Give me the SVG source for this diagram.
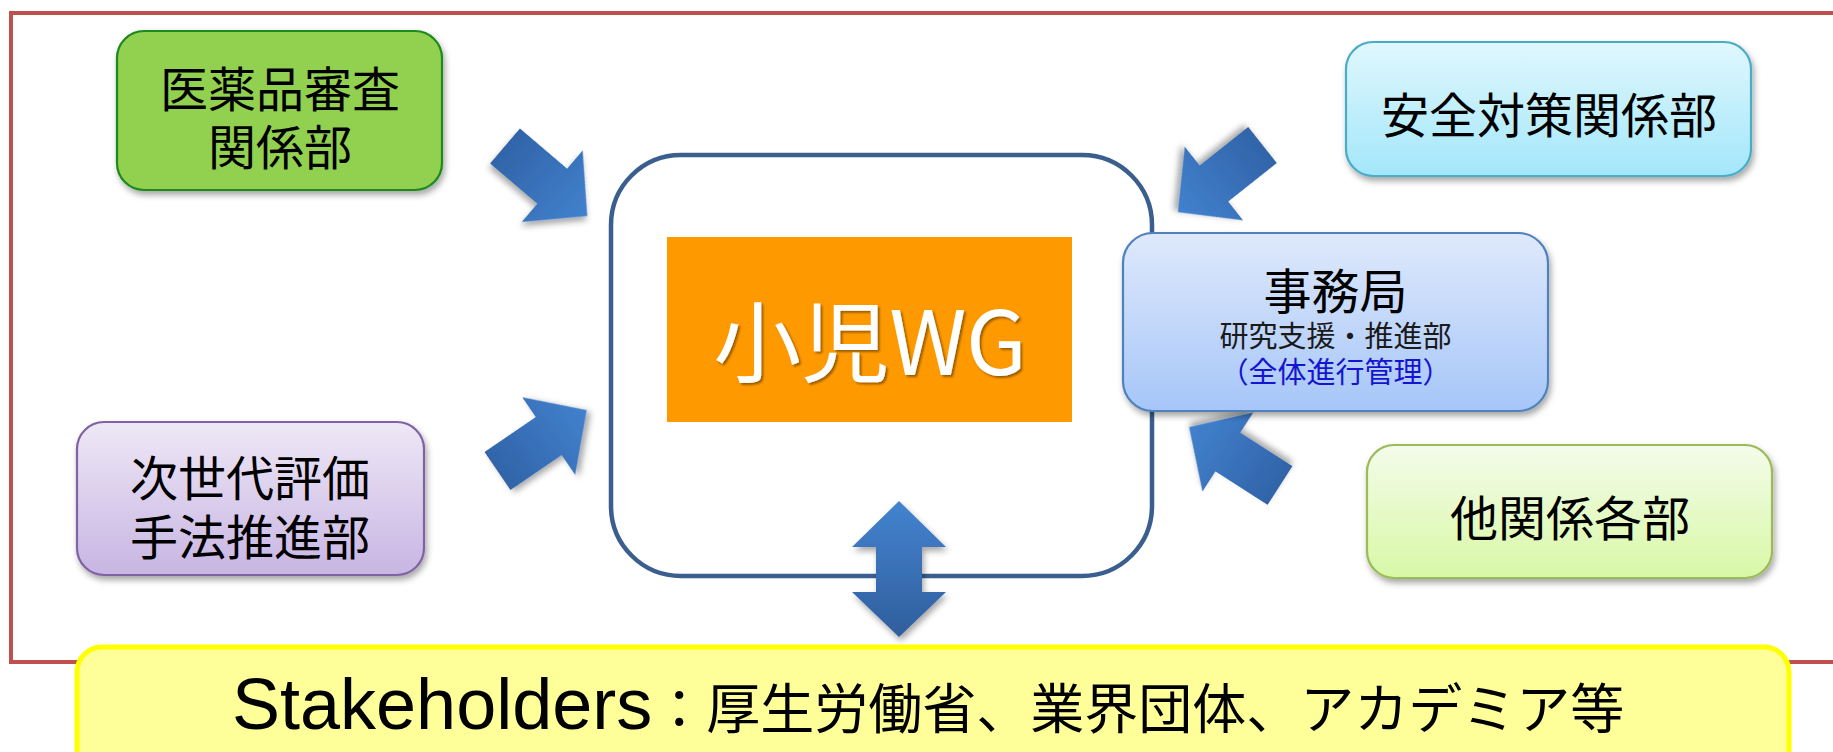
<svg xmlns="http://www.w3.org/2000/svg" width="1833" height="752" viewBox="0 0 1833 752">
<defs>
<style>
.t{font-family:"Noto Sans CJK JP","Noto Sans CJK SC",sans-serif;fill:#000;text-anchor:middle;dominant-baseline:central}
.big{font-size:48px}
.box{stroke-width:2.2;filter:url(#sh)}
.arrow{filter:url(#ash)}
</style>
<filter id="sh" x="-10%" y="-10%" width="120%" height="130%"><feDropShadow dx="2" dy="4" stdDeviation="3" flood-color="#000" flood-opacity="0.35"/></filter>
<filter id="ash" x="-20%" y="-20%" width="140%" height="140%"><feDropShadow dx="2" dy="4" stdDeviation="3" flood-color="#000" flood-opacity="0.35"/></filter>
<filter id="tsh" x="-5%" y="-10%" width="110%" height="130%"><feDropShadow dx="2" dy="2" stdDeviation="1" flood-color="#000" flood-opacity="0.4"/></filter>
<linearGradient id="gCyan" x1="0" y1="0" x2="0" y2="1"><stop offset="0" stop-color="#E0F7FD"/><stop offset="1" stop-color="#A3E7FA"/></linearGradient>
<linearGradient id="gBlue" x1="0" y1="0" x2="0" y2="1"><stop offset="0" stop-color="#DFE9FB"/><stop offset="1" stop-color="#A6C6F8"/></linearGradient>
<linearGradient id="gLime" x1="0" y1="0" x2="0" y2="1"><stop offset="0" stop-color="#F4FCEA"/><stop offset="1" stop-color="#D8F8A6"/></linearGradient>
<linearGradient id="gPurple" x1="0" y1="0" x2="0" y2="1"><stop offset="0" stop-color="#EEE8F6"/><stop offset="1" stop-color="#C8B5E3"/></linearGradient>
<linearGradient id="gArrow" gradientUnits="userSpaceOnUse" x1="0" y1="0" x2="108" y2="0"><stop offset="0" stop-color="#3164A8"/><stop offset="1" stop-color="#4281CE"/></linearGradient>
<linearGradient id="gV" x1="0" y1="0" x2="0" y2="1"><stop offset="0" stop-color="#4483D0"/><stop offset="1" stop-color="#2F5E9C"/></linearGradient>
<polygon id="blk" points="0,-23 62,-23 62,-47 108,0 62,47 62,23 0,23"/>
</defs>

<rect id="frame" x="11" y="13" width="1850" height="649" fill="none" stroke="#C0504D" stroke-width="4"/>

<g id="wg">
<rect x="611" y="155" width="541" height="421" rx="70" ry="70" fill="#fff" stroke="#3A5F8E" stroke-width="4.5"/>
<rect x="667" y="237" width="405" height="185" fill="#FF9900"/>
<text class="t" x="870" y="336" style="font-size:88px;fill:#fff" filter="url(#tsh)">小児WG</text>
</g>

<g id="connectors">
<use href="#blk" class="arrow" fill="url(#gArrow)" transform="translate(505 146) rotate(40.4)"/>
<use href="#blk" class="arrow" fill="url(#gArrow)" transform="translate(497.5 471) rotate(-34.3)"/>
<use href="#blk" class="arrow" fill="url(#gArrow)" transform="translate(1262.5 145) rotate(141.6)"/>
<use href="#blk" class="arrow" fill="url(#gArrow)" transform="translate(1280 485.5) rotate(212.7)"/>
<polygon class="arrow" fill="url(#gV)" points="899,501 946,547 922,547 922,592 946,592 899,637 852,592 876,592 876,547 852,547"/>
</g>

<g id="pmda-review">
<rect class="box" x="117" y="31" width="325" height="159" rx="27" fill="#92D050" stroke="#1C8A1C"/>
<text class="t big"><tspan x="280" y="86">医薬品審査</tspan><tspan x="280" y="144">関係部</tspan></text>
</g>

<g id="next-gen">
<rect class="box" x="77" y="422" width="347" height="153" rx="27" fill="url(#gPurple)" stroke="#8064A2"/>
<text class="t big"><tspan x="250" y="475">次世代評価</tspan><tspan x="250" y="534">手法推進部</tspan></text>
</g>

<g id="safety">
<rect class="box" x="1346" y="42" width="405" height="134" rx="27" fill="url(#gCyan)" stroke="#4BACC6"/>
<text class="t big" x="1549" y="112">安全対策関係部</text>
</g>

<g id="secretariat">
<rect class="box" x="1123" y="233" width="425" height="178" rx="30" fill="url(#gBlue)" stroke="#4F81BD"/>
<text class="t"><tspan x="1335.5" y="288" style="font-size:48px">事務局</tspan><tspan x="1335.5" y="334" style="font-size:29px;fill:#1a1a1a">研究支援・推進部</tspan><tspan x="1335.5" y="370" style="font-size:29px;fill:#1515D0">（全体進行管理）</tspan></text>
</g>

<g id="others">
<rect class="box" x="1367" y="445" width="405" height="133" rx="27" fill="url(#gLime)" stroke="#9BBB59"/>
<text class="t big" x="1570" y="515">他関係各部</text>
</g>

<g id="stakeholders">
<rect x="77" y="647" width="1712" height="130" rx="25" fill="#FFFF99" stroke="#FFFF00" stroke-width="5"/>
<text x="232" y="729" style="font-family:'Liberation Sans',Arial,sans-serif;fill:#000"><tspan style="font-size:72px">Stakeholders</tspan><tspan style="font-size:54px;font-family:'Noto Sans CJK JP','Noto Sans CJK SC',sans-serif">：厚生労働省、業界団体、アカデミア等</tspan></text>
</g>
</svg>
